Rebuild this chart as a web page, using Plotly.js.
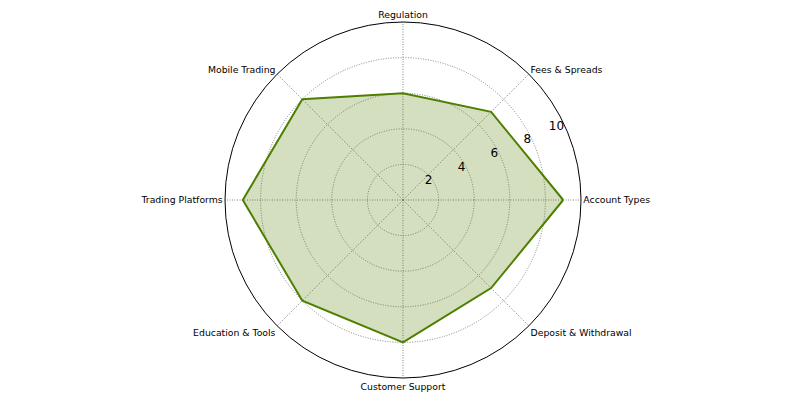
<!DOCTYPE html>
<html>
<head>
<meta charset="utf-8">
<script src="https://cdn.plot.ly/plotly-3.0.1.min.js"></script>
<style>
  html, body { margin: 0; padding: 0; background: #fff; }
  #chart { width: 800px; height: 400px; }
</style>
</head>
<body>
<div id="chart"></div>
<script>
var categories = ["Account Types", "Fees & Spreads", "Regulation", "Mobile Trading",
  "Trading Platforms", "Education & Tools", "Customer Support", "Deposit & Withdrawal"];
var scores = [9, 7, 6, 8, 9, 8, 8, 7];
var radialTicks = [2, 4, 6, 8, 10];

// close the polygon
var theta = categories.concat([categories[0]]);
var r = scores.concat([scores[0]]);

var trace = {
  type: "scatterpolar",
  r: r,
  theta: theta,
  mode: "lines",
  fill: "toself",
  fillcolor: "rgba(79,127,0,0.25)",
  line: { color: "#4f7f00", width: 2 },
  hoverinfo: "r+theta"
};

var layout = {
  width: 800,
  height: 400,
  margin: { l: 6, r: 0, t: 22, b: 22 },
  paper_bgcolor: "#fff",
  showlegend: false,
  font: { family: "DejaVu Sans", color: "#000" },
  polar: {
    bgcolor: "#fff",
    radialaxis: {
      range: [0, 10],
      tickvals: radialTicks,
      ticks: "",
      showline: false,
      angle: 22.5,
      side: "counterclockwise",
      tickangle: 22.5,
      gridcolor: "#666",
      griddash: "1px,1.5px",
      gridwidth: 0.8,
      tickfont: { size: 12, color: "#000" }
    },
    angularaxis: {
      direction: "counterclockwise",
      rotation: 0,
      ticks: "",
      showline: true,
      linecolor: "#000",
      linewidth: 1,
      gridcolor: "#666",
      griddash: "1px,1.5px",
      gridwidth: 0.8,
      tickfont: { size: 9.3, color: "#000" }
    }
  }
};

Plotly.newPlot("chart", [trace], layout, { displayModeBar: false, staticPlot: true });
</script>
</body>
</html>
